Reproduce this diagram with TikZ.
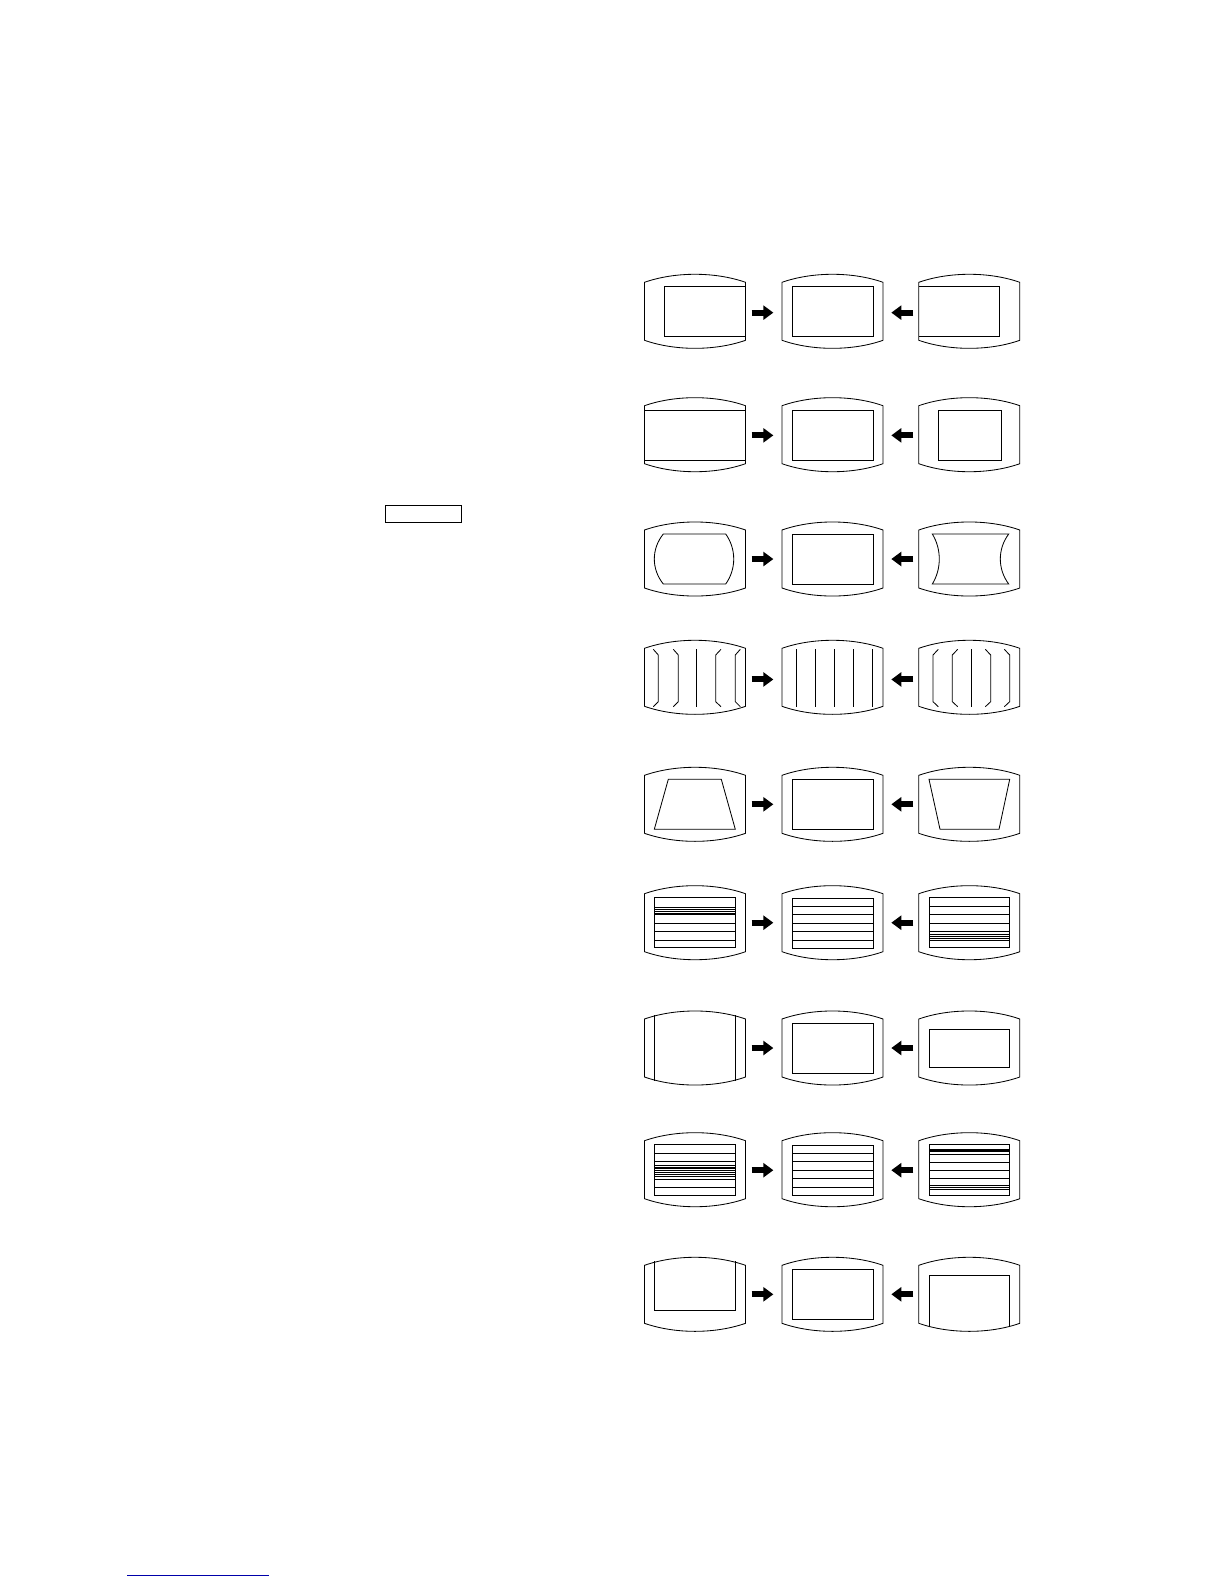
\documentclass[tikz,border=0pt]{standalone}
\usepackage{xcolor}
\usepackage{tikz}
\usetikzlibrary{arrows.meta}
\definecolor{linkblue}{RGB}{0,0,170}

\begin{document}
\begin{tikzpicture}[
    x=0.6pt, y=-0.6pt,
    screen/.style={minimum width=60.6pt, minimum height=44.4pt, inner sep=0pt},
    line/.style={line width=0.5pt, black},
    heavy line/.style={line width=0.85pt, black},
    shift arrow/.style={line width=3.6pt, -{Triangle[length=6pt, width=8.4pt]}},
    blockright/.style={shift arrow, shorten <=3.5pt, shorten >=5pt},
    blockleft/.style={shift arrow, shorten <=3pt, shorten >=4.8pt},
    plain/.style={insert path={(-40.2,-24.7) rectangle (40.8,25.3)}}
  ]
    \useasboundingbox (0,0) rectangle (1224,1584);

    % screens and arrows, row by row
    \foreach \ypos/\dy [count=\row] in {311.3/0.8pt, 434.7/0.4pt, 559/0pt, 677.3/1.3pt, 804.3/0pt, 922.7/0pt, 1048/0pt, 1169.7/0.3pt, 1294.3/0pt} {
      \foreach \xpos/\col in {695/a, 832.5/b, 969.3/c} {
        \node[screen] (\col\row) at (\xpos,\ypos) {};
        \begin{scope}[shift={(\col\row)}]
          \draw[line] (-50.5,-29) .. controls (-20,-39.7) and (20,-39.7) .. (50.5,-29) -- (50.5,29)
            .. controls (20,39.7) and (-20,39.7) .. (-50.5,29) -- cycle;
        \end{scope}
      }
      \draw[blockright] ([yshift=-\dy]a\row.east) -- ([yshift=-\dy]b\row.west);
      \draw[blockleft] ([yshift=-\dy]c\row.west) -- ([yshift=-\dy]b\row.east);
    }

    % row 1
    \draw[line, shift={(a1)}] (50.5,-24.7) -- (-30.7,-24.7) -- (-30.7,25.3) -- (50.5,25.3);
    \draw[line, shift={(b1)}, plain];
    \draw[line, shift={(c1)}] (-50.5,-24.7) -- (30.4,-24.7) -- (30.4,25.3) -- (-50.5,25.3);
    % row 2
    \draw[line, shift={(a2)}] (-50.5,-24.7) -- (50.5,-24.7) (-50.5,25.6) -- (50.5,25.6);
    \draw[line, shift={(b2)}, plain];
    \draw[line, shift={(c2)}] (-31,-24.7) rectangle (32,25.3);
    % row 3
    \draw[line, shift={(a3)}] (-31.7,-25) -- (30.7,-25) .. controls (41.4,-10) and (41.4,10) .. (30.7,25)
      -- (-31.7,25) .. controls (-43.7,10) and (-43.7,-10) .. (-31.7,-25) -- cycle;
    \draw[line, shift={(b3)}, plain];
    \draw[line, shift={(c3)}] (-37,-25) -- (39.4,-25) .. controls (28.2,-10) and (28.2,10) .. (39.4,25)
      -- (-37,25) .. controls (-27.7,10) and (-27.7,-10) .. (-37,-25) -- cycle;
    % row 4
    \begin{scope}[shift={(a4)}]
      \foreach \top/\mid in {-41.7/-36.7, -21.7/-16.7, 26/20.7, 45.3/40.3}
        \draw[line] (\top,-28) -- (\mid,-22.3) -- (\mid,24.4) -- (\top,29.4);
      \draw[line] (1.7,-28) -- (1.7,29.4);
    \end{scope}
    \foreach \xline in {-36.5,-17.2,1.8,20.8,40.2}
      \draw[line, shift={(b4)}] (\xline,-28) -- (\xline,29.4);
    \begin{scope}[shift={(c4)}]
      \foreach \top/\mid in {-31/-36.3, -11.6/-17, 16/21.4, 35/40.4}
        \draw[line] (\top,-28) -- (\mid,-22.3) -- (\mid,24.4) -- (\top,29.4);
      \draw[line] (2,-28) -- (2,29.4);
    \end{scope}
    % row 5
    \draw[line, shift={(a5)}] (-26.7,-25) -- (26.3,-25) -- (40.3,25) -- (-40.7,25) -- cycle;
    \draw[line, shift={(b5)}, plain];
    \draw[line, shift={(c5)}] (-40.3,-25) -- (40.4,-25) -- (29.7,25) -- (-29.3,25) -- cycle;
    % row 6
    \begin{scope}[shift={(a6)}]
      \draw[line] (-40.7,-25) rectangle (40.3,25);
      \foreach \yline in {-15.5,-13,-11.2,-9.4,-7.9,0.3,8.6,17.4}
        \draw[line] (-40.7,\yline) -- (40.3,\yline);
    \end{scope}
    \begin{scope}[shift={(b6)}]
      \draw[line, plain];
      \foreach \yline in {-16.4,-8.4,0.3,8.6,17.4}
        \draw[line] (-40.2,\yline) -- (40.8,\yline);
    \end{scope}
    \begin{scope}[shift={(c6)}]
      \draw[line] (-40.3,-25) rectangle (40.4,25);
      \foreach \yline in {-16.4,-8.4,0.3,9,11.3,13.3,15.3,17.3}
        \draw[line] (-40.3,\yline) -- (40.4,\yline);
    \end{scope}
    % row 7
    \draw[heavy line, shift={(a7)}] (-40.7,-33) -- (-40.7,33.4);
    \draw[line, shift={(a7)}] (40.3,-33) -- (40.3,33.4);
    \draw[line, shift={(b7)}, plain];
    \draw[line, shift={(c7)}] (-40.3,-18.7) rectangle (40.4,19.3);
    % row 8
    \begin{scope}[shift={(a8)}]
      \draw[line] (-40.7,-25) rectangle (40.3,25.5);
      \foreach \yline in {-16.4,-8,-4.4,-2.7,-1,1,3,5,7,9.3,17.6}
        \draw[line] (-40.7,\yline) -- (40.3,\yline);
    \end{scope}
    \begin{scope}[shift={(b8)}]
      \draw[line, plain];
      \foreach \yline in {-16.4,-8,0.6,9,17.6}
        \draw[line] (-40.2,\yline) -- (40.8,\yline);
    \end{scope}
    \begin{scope}[shift={(c8)}]
      \draw[line] (-40.3,-25) rectangle (40.4,25.5);
      \foreach \yline in {-15,-7.4,0.6,9,15.6}
        \draw[line] (-40.3,\yline) -- (40.4,\yline);
      \foreach \yline in {-19.7,-18,17.6,19.6}
        \draw[heavy line] (-40.3,\yline) -- (40.4,\yline);
    \end{scope}
    % row 9
    \draw[line, shift={(a9)}] (-40.7,-33) -- (-40.7,16) -- (40.3,16) -- (40.3,-33);
    \draw[line, shift={(b9)}, plain];
    \draw[line, shift={(c9)}] (-40.3,33) -- (-40.3,-19) -- (40.4,-19) -- (40.4,33);

    % the empty box and the link rule
    \node[draw, line width=0.6pt, minimum width=45.8pt, minimum height=10.2pt, inner sep=0pt] (keybox) at (423.5,513.8) {};
    \coordinate (linkstart) at (127.3,1575.3);
    \coordinate (linkend) at (269,1575.3);
    \draw[linkblue, line width=0.6pt] (linkstart) -- (linkend);
  \end{tikzpicture}
\end{document}
